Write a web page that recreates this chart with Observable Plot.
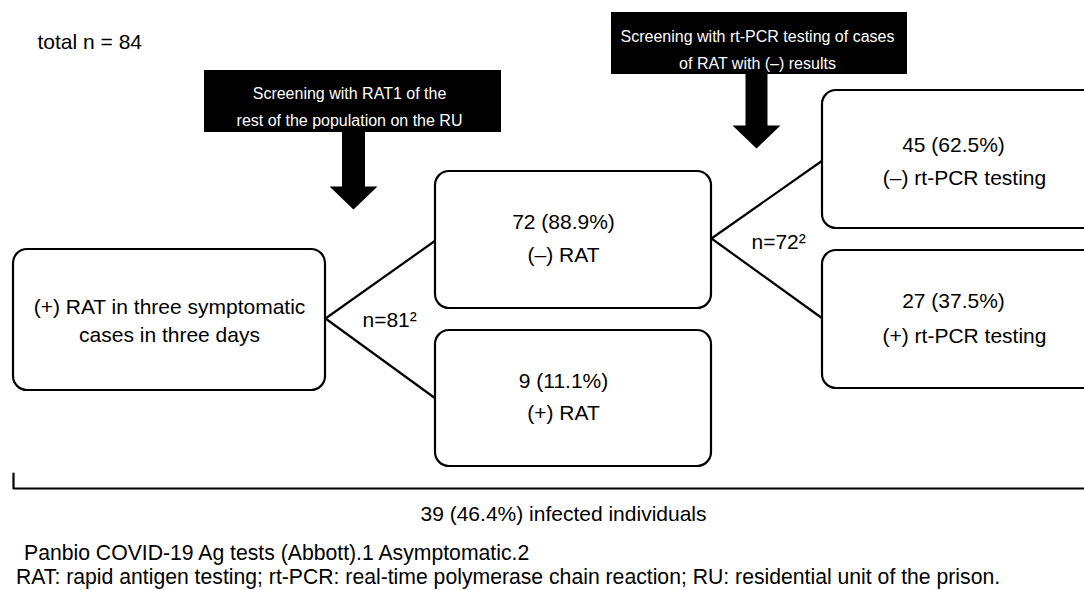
<!DOCTYPE html>
<html>
<head>
<meta charset="utf-8">
<script src="https://cdn.jsdelivr.net/npm/d3@7"></script>
<script src="https://cdn.jsdelivr.net/npm/@observablehq/plot@0.6"></script>
<style>
  html, body { margin: 0; padding: 0; background: #fff; }
  body { width: 1084px; height: 590px; overflow: hidden; font-family: "Liberation Sans", Arial, Helvetica, sans-serif; color: #000; }
  #notes { font-size: 21.2px; line-height: 24px; margin-top: 11px; }
  #notes div { white-space: nowrap; }
</style>
</head>
<body>
<div id="chart"></div>
<div id="notes"></div>
<script>
// ---------------- data ----------------
const totalN = 84;
const screeningSteps = [
  "Screening with RAT1 of the\nrest of the population on the RU",
  "Screening with rt-PCR testing of cases\nof RAT with (–) results"
];
const indexCases = "(+) RAT in three symptomatic\ncases in three days";
const outcomes = ["(–) RAT", "(+) RAT", "(–) rt-PCR testing", "(+) rt-PCR testing"];
const counts = [72, 9, 45, 27];
const percents = [88.9, 11.1, 62.5, 37.5];
const branchN = [81, 72];
const infectedN = 39;
const infectedPct = 46.4;
const footnotes = [
  "Panbio COVID-19 Ag tests (Abbott).1 Asymptomatic.2",
  "RAT: rapid antigen testing; rt-PCR: real-time polymerase chain reaction; RU: residential unit of the prison."
];

// ---------------- layout (diagram frame units) ----------------
const W = 1084, H = 530;
const FONT = '"Liberation Sans", Arial, Helvetica, sans-serif';
const indexBox = {x1: 13, x2: 325, y1: 249, y2: 390, cx: 169, cy: 319};
const outcomeBoxes = [
  {x1: 435, x2: 711, y1: 171, y2: 308, cx1: 563, cy1: 222, cx2: 563, cy2: 255},
  {x1: 435, x2: 711, y1: 330, y2: 466, cx1: 563, cy1: 381, cx2: 563, cy2: 413},
  {x1: 822, x2: 1110, y1: 90, y2: 228, cx1: 953, cy1: 145, cx2: 964, cy2: 178},
  {x1: 822, x2: 1110, y1: 250, y2: 388, cx1: 953, cy1: 301, cx2: 964, cy2: 336}
];
const screenBoxes = [
  {x1: 204, x2: 501, y1: 70, y2: 132, cx: 349, cy: 103, ax: 353, stem: 11.5, head: 24, headTop: 186, tip: 209},
  {x1: 611, x2: 907, y1: 12, y2: 74, cx: 757, cy: 46, ax: 756, stem: 11, head: 24, headTop: 125, tip: 148}
];
const branches = [
  {from: [325, 318], to: [[435, 240], [435, 398]], label: [362, 320]},
  {from: [711, 238], to: [[822, 160], [822, 318]], label: [751, 242]}
];
const bracket = {x1: 13, x2: 1100, y: 488, tickTop: 473, labelX: 563, labelY: 514};
const totalPos = {x: 37, y: 42};

// ---------------- derived tables ----------------
const outcomeTable = outcomes.map((o, i) => ({
  ...outcomeBoxes[i],
  countLabel: `${counts[i]} (${percents[i].toFixed(1)}%)`,
  outcome: o
}));
const screenTable = screeningSteps.map((s, i) => ({...screenBoxes[i], label: s}));
const arrowPts = screenTable.flatMap((b, i) => {
  const top = b.y2 - 1;
  return [
    [b.ax - b.stem, top], [b.ax + b.stem, top], [b.ax + b.stem, b.headTop],
    [b.ax + b.head, b.headTop], [b.ax, b.tip], [b.ax - b.head, b.headTop],
    [b.ax - b.stem, b.headTop]
  ].map(([x, y]) => ({x, y, id: i}));
});
const links = branches.flatMap((b) => b.to.map((t) => ({x1: b.from[0], y1: b.from[1], x2: t[0], y2: t[1]})));
const branchLabels = branches.map((b, i) => ({x: b.label[0], y: b.label[1], text: `n=${branchN[i]}²`}));
const bracketPts = [
  {x: bracket.x1, y: bracket.tickTop},
  {x: bracket.x1, y: bracket.y},
  {x: bracket.x2, y: bracket.y}
];

const chart = Plot.plot({
  width: W,
  height: H,
  margin: 0,
  x: {domain: [0, W], range: [0, W], axis: null},
  y: {domain: [0, H], range: [0, H], axis: null},
  style: {fontFamily: FONT, background: "white", color: "black", overflow: "hidden"},
  marks: [
    // connectors
    Plot.link(links, {x1: "x1", y1: "y1", x2: "x2", y2: "y2", stroke: "black", strokeWidth: 2.2}),
    // screening boxes and arrows
    Plot.rect(screenTable, {x1: "x1", x2: "x2", y1: "y1", y2: "y2", fill: "black"}),
    Plot.line(arrowPts, {x: "x", y: "y", z: "id", fill: "black", stroke: "none", curve: "linear-closed"}),
    Plot.text(screenTable, {x: "cx", y: "cy", text: "label", fill: "white", fontSize: 16, lineHeight: 1.72}),
    // node boxes
    Plot.rect([indexBox], {x1: "x1", x2: "x2", y1: "y1", y2: "y2", rx: 14, fill: "white", stroke: "black", strokeWidth: 2.2}),
    Plot.rect(outcomeTable, {x1: "x1", x2: "x2", y1: "y1", y2: "y2", rx: 14, fill: "white", stroke: "black", strokeWidth: 2.2}),
    Plot.text([indexBox], {x: "cx", y: "cy", text: () => indexCases, fontSize: 21, lineHeight: 1.33}),
    Plot.text(outcomeTable, {x: "cx1", y: "cy1", text: "countLabel", fontSize: 21}),
    Plot.text(outcomeTable, {x: "cx2", y: "cy2", text: "outcome", fontSize: 21}),
    // branch sizes
    Plot.text(branchLabels, {x: "x", y: "y", text: "text", textAnchor: "start", fontSize: 21}),
    // total and infected
    Plot.text([totalPos], {x: "x", y: "y", text: () => `total n = ${totalN}`, textAnchor: "start", fontSize: 21}),
    Plot.line(bracketPts, {x: "x", y: "y", stroke: "black", strokeWidth: 2.2}),
    Plot.text([bracket], {x: "labelX", y: "labelY", text: () => `${infectedN} (${infectedPct}%) infected individuals`, fontSize: 21})
  ]
});
document.getElementById("chart").appendChild(chart);

const notes = document.getElementById("notes");
const pads = [24, 16];
footnotes.forEach((t, i) => {
  const d = document.createElement("div");
  d.textContent = t;
  d.style.paddingLeft = pads[i] + "px";
  notes.appendChild(d);
});
</script>
</body>
</html>
